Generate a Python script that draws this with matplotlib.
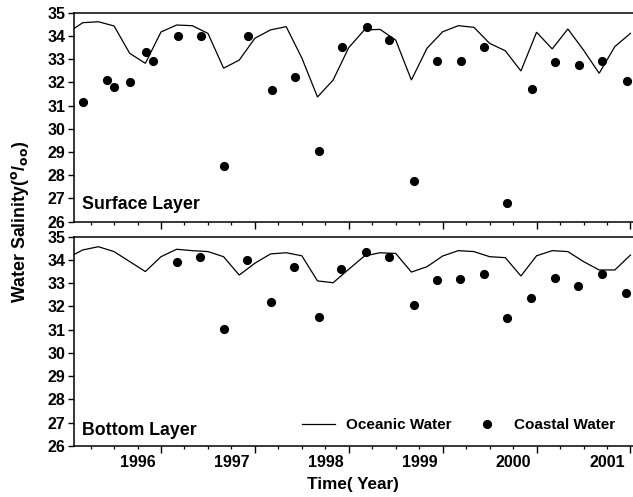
import numpy as np
import matplotlib
matplotlib.use("Agg")
import matplotlib.pyplot as plt
from matplotlib.transforms import ScaledTranslation
from matplotlib.lines import Line2D

plt.rcParams['font.family'] = ['Liberation Sans', 'DejaVu Sans']
plt.rcParams['font.weight'] = 'bold'
plt.rcParams['mathtext.default'] = 'regular'

# Oceanic water: bi-monthly series, 1995.0 .. 2001.0
ocean_time = 1995.0 + np.arange(37) / 6.0
ocean_surface = [34.12, 34.57, 34.61, 34.43, 33.25, 32.82,
                 34.17, 34.47, 34.44, 34.11, 32.61, 32.96,
                 33.90, 34.26, 34.40, 33.05, 31.37, 32.10,
                 33.50, 34.26, 34.28, 33.82, 32.10, 33.47,
                 34.18, 34.44, 34.37, 33.68, 33.36, 32.49,
                 34.16, 33.44, 34.30, 33.39, 32.39, 33.54,
                 34.11]
ocean_bottom = [34.08, 34.43, 34.57, 34.36, 33.93, 33.50,
                34.14, 34.46, 34.40, 34.36, 34.14, 33.35,
                33.86, 34.26, 34.31, 34.18, 33.10, 33.02,
                33.60, 34.17, 34.31, 34.28, 33.48, 33.71,
                34.17, 34.40, 34.36, 34.14, 34.10, 33.31,
                34.18, 34.40, 34.36, 33.93, 33.57, 33.57,
                34.21]

# Coastal water: sampling surveys
coast_surface_time = [1995.17, 1995.42, 1995.50, 1995.67, 1995.84, 1995.92,
                      1996.18, 1996.43, 1996.67, 1996.93, 1997.18, 1997.43,
                      1997.68, 1997.93, 1998.19, 1998.43, 1998.69, 1998.94,
                      1999.19, 1999.44, 1999.69, 1999.95, 2000.20, 2000.45,
                      2000.70, 2000.96]
coast_surface = [31.14, 32.10, 31.81, 32.03, 33.30, 32.93,
                 34.01, 34.01, 28.40, 34.01, 31.67, 32.25,
                 29.06, 33.54, 34.40, 33.82, 27.77, 32.93,
                 32.93, 33.54, 26.79, 31.70, 32.86, 32.73,
                 32.92, 32.07]
coast_bottom_time = [1996.17, 1996.42, 1996.67, 1996.92, 1997.17, 1997.42,
                     1997.68, 1997.92, 1998.18, 1998.43, 1998.69, 1998.94,
                     1999.18, 1999.44, 1999.69, 1999.94, 2000.20, 2000.44,
                     2000.70, 2000.95]
coast_bottom = [33.93, 34.14, 31.02, 34.00, 32.21, 33.68,
                31.53, 33.60, 34.36, 34.11, 32.06, 33.14,
                33.17, 33.38, 31.52, 32.35, 33.21, 32.88,
                33.40, 32.57]

years = [1996, 1997, 1998, 1999, 2000, 2001]
year_labels = [str(y) for y in years]
panel_titles = ["Surface Layer", "Bottom Layer"]

W, H = 633, 497
fig = plt.figure(figsize=(W / 100, H / 100), dpi=100)

def px_axes(left, top, right, bottom):
    return fig.add_axes([left / W, 1 - bottom / H, (right - left) / W, (bottom - top) / H])

ax_top = px_axes(74, 12.7, 633, 221.7)
ax_bot = px_axes(74, 236.7, 633, 446)

panels = [
    (ax_top, ocean_surface, coast_surface_time, coast_surface, panel_titles[0], 0.08),
    (ax_bot, ocean_bottom, coast_bottom_time, coast_bottom, panel_titles[1], 0.076),
]

for ax, ocean, ctime, coast, title, ty in panels:
    ax.plot(ocean_time, ocean, color='black', lw=0.9, solid_joinstyle='miter')
    ax.plot(ctime, coast, 'o', color='black', ms=6.6, mew=0)
    ax.set_xlim(1995.0735, 2001.027)
    ax.set_ylim(26, 35)
    ax.set_yticks(np.arange(26, 36, 1))
    ax.set_xticks(years)
    ax.set_xticks(np.arange(1995.25, 2001.01, 0.25), minor=True)
    ax.tick_params(axis='y', direction='out', length=4.5, width=1.0, pad=1.5,
                   labelsize=11.5)
    ax.tick_params(axis='x', which='major', direction='out', length=5, width=1.0, pad=1.2,
                   labelsize=11.5)
    ax.tick_params(axis='x', which='minor', direction='out', length=2.5, width=0.9)
    for lab in ax.get_yticklabels():
        lab.set_fontweight('bold')
    ax.spines['right'].set_visible(False)
    for s in ('left', 'top', 'bottom'):
        ax.spines[s].set_linewidth(1.1)
    ax.text(0.0143, ty, title, transform=ax.transAxes, fontsize=12.8,
            fontweight='bold', ha='left', va='center')

ax_top.set_xticklabels([])
ax_bot.set_xticklabels(year_labels, fontweight='bold')
shift = ScaledTranslation(-0.23, 0, fig.dpi_scale_trans)
for lab in ax_bot.get_xticklabels():
    lab.set_transform(lab.get_transform() + shift)

handles = [Line2D([], [], color='black', lw=0.9),
           Line2D([], [], ls='none', marker='o', color='black', ms=6.6, mew=0)]
ax_bot.legend(handles, ["Oceanic Water", "Coastal Water"], ncol=2, frameon=False,
              loc='center left', bbox_to_anchor=((294 - 74) / 559, (446 - 425) / 209.3),
              borderpad=0, handlelength=2.2, handletextpad=0.7, columnspacing=1.2,
              prop={'weight': 'bold', 'size': 11})

fig.text(20 / W, 1 - 222 / H, r"Water Salinity($^{\mathrm{o}}/_{\mathrm{oo}}$)",
         rotation=90, ha='center', va='center', fontsize=12.8, fontweight='bold')
fig.text(353 / W, 1 - 485 / H, "Time( Year)", ha='center', va='center',
         fontsize=12.3, fontweight='bold')

fig.savefig("out.png", dpi=100)
